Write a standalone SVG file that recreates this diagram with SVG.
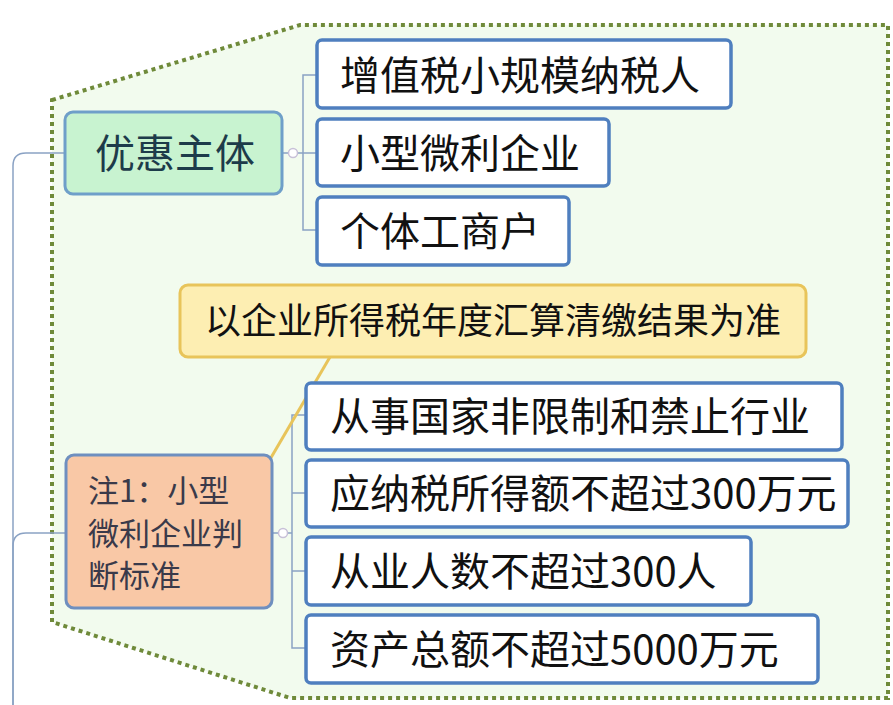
<svg xmlns="http://www.w3.org/2000/svg" width="893" height="705" viewBox="0 0 893 705">
<style>
text{font-family:"Noto Sans CJK SC","Liberation Sans",sans-serif;fill:#111;}
.b{fill:#fff;stroke:#4f7fbf;stroke-width:3.5;}
.t{font-size:40px;}
.c{fill:none;stroke:#8aa2c4;stroke-width:1.5;}
</style>
<rect width="893" height="705" fill="#fff"/>
<path d="M52,100 L300,25 L888,25 L888,698 L290,698 L52,622 Z" fill="#f2fbee" stroke="#6f8a3a" stroke-width="4" stroke-dasharray="4,4"/>
<g id="connectors">
<path class="c" d="M13,705 V166 Q13,153 26,153 H65"/>
<path class="c" d="M13,705 V546 Q13,533 26,533 H66"/>
<path class="c" d="M282,153 H303 M317,75 H303 V230 H317 M303,153 H317"/>
<path class="c" d="M272,533 H292 M306,415 H292 V648 H306 M292,493 H306 M292,571 H306"/>
<circle cx="293" cy="153" r="4.5" fill="#fff" stroke="#c8c0d8" stroke-width="1.5"/>
<circle cx="283" cy="533" r="4.5" fill="#fff" stroke="#c8c0d8" stroke-width="1.5"/>
<line x1="330" y1="357" x2="262" y2="473" stroke="#e8c45a" stroke-width="3"/>
</g>
<g id="n1"><rect x="65" y="112" width="217" height="82" rx="8" fill="#c8f3d0" stroke="#6f9fc9" stroke-width="3"/><text x="175" y="168" text-anchor="middle" font-size="40" style="fill:#1d3b4a">优惠主体</text></g>
<g id="n2"><rect class="b" x="317" y="40" width="414" height="68" rx="5"/><text class="t" x="340" y="90">增值税小规模纳税人</text></g>
<g id="n3"><rect class="b" x="317" y="119" width="292" height="67" rx="5"/><text class="t" x="340" y="168">小型微利企业</text></g>
<g id="n4"><rect class="b" x="317" y="197" width="252" height="68" rx="5"/><text class="t" x="340" y="246">个体工商户</text></g>
<g id="callout"><rect x="180" y="285" width="626" height="72" rx="8" fill="#fdeeb2" stroke="#e8c45a" stroke-width="3"/><text x="493" y="334" text-anchor="middle" font-size="36">以企业所得税年度汇算清缴结果为准</text></g>
<g id="n5"><rect x="66" y="455" width="206" height="153" rx="8" fill="#f9c8a6" stroke="#6f8fbf" stroke-width="3"/><text font-size="31" style="fill:#3a3a4a"><tspan x="88" y="502">注1：小型</tspan><tspan x="88" y="545">微利企业判</tspan><tspan x="88" y="587">断标准</tspan></text></g>
<g id="n6"><rect class="b" x="306" y="383" width="536" height="67" rx="5"/><text class="t" x="330" y="431">从事国家非限制和禁止行业</text></g>
<g id="n7"><rect class="b" x="306" y="460" width="542" height="67" rx="5"/><text class="t" x="330" y="508">应纳税所得额不超过300万元</text></g>
<g id="n8"><rect class="b" x="306" y="537" width="445" height="68" rx="5"/><text class="t" x="330" y="586">从业人数不超过300人</text></g>
<g id="n9"><rect class="b" x="306" y="615" width="512" height="68" rx="5"/><text class="t" x="330" y="664">资产总额不超过5000万元</text></g>
</svg>
